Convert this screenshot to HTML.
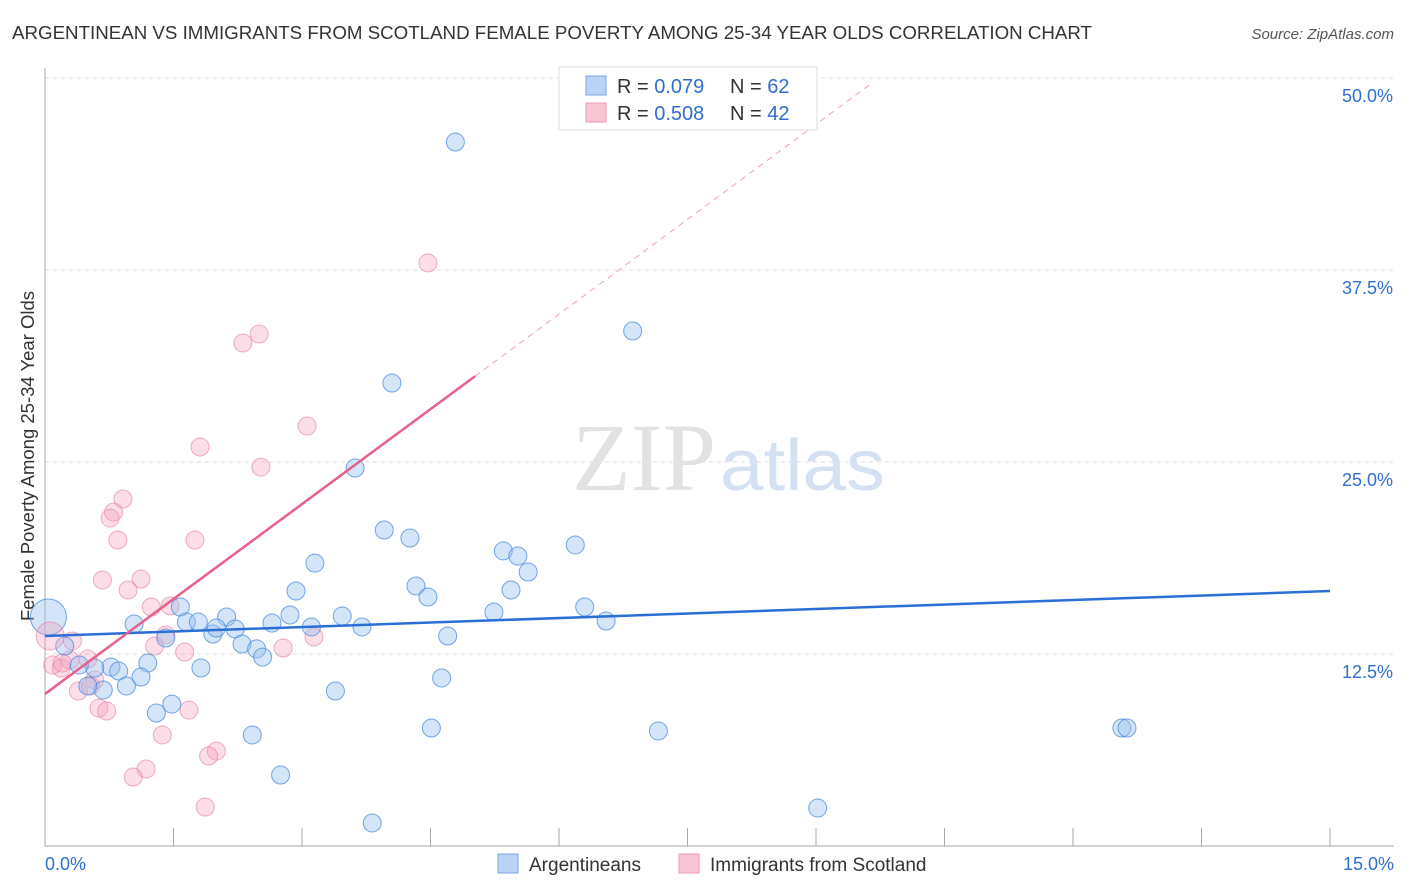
<!DOCTYPE html>
<html><head><meta charset="utf-8">
<style>
body{margin:0;background:#fff;font-family:"Liberation Sans",sans-serif;}
svg{display:block}
</style></head>
<body>
<svg id="chart" width="1406" height="892">
<text x="12" y="39" font-size="18" fill="#333" textLength="1080" lengthAdjust="spacingAndGlyphs">ARGENTINEAN VS IMMIGRANTS FROM SCOTLAND FEMALE POVERTY AMONG 25-34 YEAR OLDS CORRELATION CHART</text>
<text x="1394" y="39" font-size="15" font-style="italic" fill="#555" text-anchor="end">Source: ZipAtlas.com</text>
<text x="0" y="0" transform="translate(34,456) rotate(-90)" font-size="18.5" fill="#333" text-anchor="middle">Female Poverty Among 25-34 Year Olds</text>
<g id="grid"></g>
<text x="716" y="490" font-size="96" font-family="Liberation Serif,serif" fill="#e2e2e2" text-anchor="end">ZIP</text>
<text x="720" y="490" font-size="72" fill="#d3e1f3" textLength="165" lengthAdjust="spacingAndGlyphs">atlas</text>
<g id="pts"></g>
<g id="lines"></g>
<g>
<rect x="559" y="67" width="258" height="63" fill="#fff" stroke="#ddd"/>
<rect x="586" y="76" width="20" height="19" fill="#b8d3f5" stroke="#7aa7e0"/>
<rect x="586" y="103" width="20" height="19" fill="#f9c6d6" stroke="#ee9ab3"/>
<text x="617" y="93" font-size="20" fill="#333">R = <tspan fill="#2f6fd0">0.079</tspan><tspan x="730">N = </tspan><tspan fill="#2f6fd0">62</tspan></text>
<text x="617" y="120" font-size="20" fill="#333">R = <tspan fill="#2f6fd0">0.508</tspan><tspan x="730">N = </tspan><tspan fill="#2f6fd0">42</tspan></text>
</g>
<g>
<rect x="498" y="854" width="20" height="19" fill="#b8d3f5" stroke="#7aa7e0"/>
<text x="529" y="871" font-size="19" fill="#333">Argentineans</text>
<rect x="679" y="854" width="20" height="19" fill="#f9c6d6" stroke="#ee9ab3"/>
<text x="710" y="871" font-size="19" fill="#333">Immigrants from Scotland</text>
</g>
</svg>
<script>
const blueX=[4.79,6.86,4.05,3.62,3.96,4.26,3.15,5.35,5.52,5.64,6.19,4.33,4.47,5.44,2.93,5.24,6.30,6.55,1.58,1.04,1.65,1.79,2.12,1.96,2.00,2.22,2.65,2.86,3.11,3.47,3.70,2.30,2.47,2.54,1.41,4.70,1.20,0.77,0.86,0.58,0.40,0.23,1.82,1.12,0.95,0.68,0.50,3.39,4.63,1.30,1.48,2.42,4.51,7.16,12.57,12.63,2.75,9.02,3.82];
const blueY=[45.83,33.53,30.14,24.61,20.57,20.05,18.42,19.21,18.88,17.84,19.60,16.93,16.21,16.67,16.60,15.23,15.56,14.65,15.56,14.45,14.58,14.58,14.91,13.80,14.19,14.13,14.52,15.04,14.26,14.97,14.26,13.15,12.83,12.30,13.54,13.67,11.91,11.65,11.39,11.59,11.78,13.02,11.59,11.00,10.42,10.16,10.42,10.09,10.94,8.66,9.24,7.23,7.68,7.49,7.68,7.68,4.62,2.47,1.50];
const pinkX=[4.47,2.50,2.31,3.06,1.81,2.52,0.91,0.80,0.76,0.85,1.75,0.67,1.12,0.97,1.24,1.46,1.41,1.28,2.78,3.14,1.63,0.32,0.09,0.19,0.29,0.50,0.58,0.39,0.53,0.63,0.72,1.68,1.37,2.00,1.91,1.18,1.03,1.87,0.20];
const pinkY=[37.96,33.33,32.75,27.34,25.98,24.67,22.59,21.74,21.35,19.92,19.92,17.32,17.38,16.67,15.56,15.63,13.74,13.02,12.89,13.61,12.63,13.35,11.78,11.59,12.11,12.17,10.81,10.09,10.42,8.98,8.79,8.85,7.23,6.18,5.86,5.01,4.49,2.54,11.91];
const yTicks=[12.5,25,37.5,50];
const xTicks=[0,1.5,3,4.5,6,7.5,9,10.5,12,13.5,15];
const blueTrend=[13.67,16.60];
const pinkTrend=[9.90,4.12];
const NS="http://www.w3.org/2000/svg";
const X=v=>45+v/15*1285, Y=v=>846-v/12.5*192;
function mk(p,t,a){const e=document.createElementNS(NS,t);for(const k in a)e.setAttribute(k,a[k]);p.appendChild(e);return e;}
const g=document.getElementById('grid');
yTicks.forEach(t=>{
 const l=mk(g,'line',{x1:45,x2:1394,y1:Y(t),y2:Y(t),stroke:'#ddd','stroke-dasharray':'4,4'});
 
 
 const tx=mk(g,'text',{x:1393,y:Y(t)+24,'font-size':18,fill:'#2f6fd0','text-anchor':'end'});
 tx.textContent=t.toFixed(1)+'%';
 
 
});
const ax=mk(g,'line',{x1:45,x2:45,y1:68,y2:846,stroke:'#aaa'});


const bx=mk(g,'line',{x1:45,x2:1394,y1:846,y2:846,stroke:'#aaa'});


xTicks.forEach(t=>{
 const l=mk(g,'line',{x1:X(t),x2:X(t),y1:828,y2:846,stroke:'#aaa'});
 
 
});
[[0,'start',45],[15,'end',1394]].forEach(([v,a,px])=>{
 const tx=mk(g,'text',{x:px,y:870,'font-size':18,fill:'#2f6fd0','text-anchor':a});
 tx.textContent=v.toFixed(1)+'%';
 
 
});
const pg=document.getElementById('pts');
pinkX.forEach((x,i)=>{
 const c=mk(pg,'circle',{cx:X(x),cy:Y(pinkY[i]),r:9,fill:'rgba(244,160,188,0.35)',stroke:'rgba(232,120,155,0.6)','stroke-width':1});
 
 
});
blueX.forEach((x,i)=>{
 const c=mk(pg,'circle',{cx:X(x),cy:Y(blueY[i]),r:9,fill:'rgba(150,190,240,0.4)',stroke:'rgba(60,130,220,0.7)','stroke-width':1});
 
 
});
const big1=mk(pg,'circle',{cx:X(0.04),cy:Y(14.91),r:18,fill:'rgba(150,190,240,0.4)',stroke:'rgba(60,130,220,0.7)'});


const big2=mk(pg,'circle',{cx:X(0.06),cy:Y(13.67),r:14,fill:'rgba(244,160,188,0.35)',stroke:'rgba(232,120,155,0.6)'});


const lg=document.getElementById('lines');
const bl=mk(lg,'line',{x1:X(0),y1:Y(blueTrend[0]),x2:X(15),y2:Y(blueTrend[1]),stroke:'#2a6fd6','stroke-width':2.5});


const pe=5.02;
const pl=mk(lg,'line',{x1:X(0),y1:Y(pinkTrend[0]),x2:X(pe),y2:Y(pinkTrend[0]+pinkTrend[1]*pe),stroke:'#e8608a','stroke-width':2.5});


const xe=9.63;
const pd=mk(lg,'line',{x1:X(pe),y1:Y(pinkTrend[0]+pinkTrend[1]*pe),x2:X(xe),y2:Y(pinkTrend[0]+pinkTrend[1]*xe),stroke:'#eea0b8','stroke-width':1,'stroke-dasharray':'6,5'});


</script>
</body></html>
